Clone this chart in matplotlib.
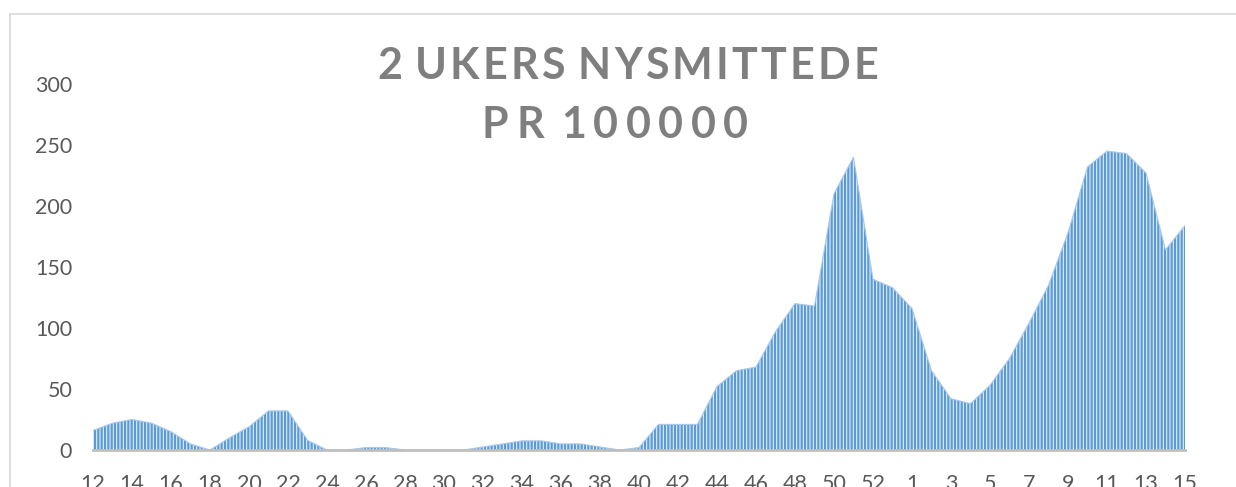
import matplotlib
matplotlib.use("Agg")
import matplotlib.pyplot as plt
from matplotlib.lines import Line2D

# ---- data ----
weeks = [12, 13, 14, 15, 16, 17, 18, 19, 20, 21, 22, 23, 24, 25, 26, 27, 28, 29, 30, 31,
         32, 33, 34, 35, 36, 37, 38, 39, 40, 41, 42, 43, 44, 45, 46, 47, 48, 49, 50, 51,
         52, 53, 1, 2, 3, 4, 5, 6, 7, 8, 9, 10, 11, 12, 13, 14, 15]
values = [16, 22, 25, 22, 15, 5, 0, 10, 19, 32, 32, 8, 0, 0, 2, 2, 0, 0, 0, 0,
          2.5, 5, 7.5, 7.5, 5, 5, 2.5, 0, 2, 21, 21, 21, 52, 65, 68, 97, 120, 118, 210, 240,
          140, 133, 116, 65, 42, 38, 53, 75, 104, 135, 178, 232, 245, 243, 227, 164, 184]
yticks = [0, 50, 100, 150, 200, 250, 300]
title_lines = ["2 UKERS NYSMITTEDE", "PR 100000"]

W, H = 1236, 487
plt.rcParams['hatch.linewidth'] = 1.6
fig = plt.figure(figsize=(W / 100, H / 100), dpi=100)
ax = fig.add_axes([93 / W, 1 - 450 / H, (1185 - 93) / W, (450 - 84) / H])

x = list(range(len(weeks)))
ax.fill_between(x, values, 0, facecolor='#e4eff9', edgecolor='#5b9bd5',
                hatch='|||||', linewidth=0, zorder=2)
ax.plot(x, values, color='#a9c9ea', lw=0.8, zorder=3)

ax.set_xlim(0, len(weeks) - 1)
ax.set_ylim(0, 300)
ax.set_xticks(x[::2])
ax.set_xticklabels([str(w) for w in weeks[::2]])
ax.set_yticks(yticks)
ax.set_yticklabels([str(v) for v in yticks])
for lab in ax.get_xticklabels() + ax.get_yticklabels():
    lab.set_fontfamily('Lato')
    lab.set_fontsize(15.5)
    lab.set_color('#595959')
ax.tick_params(axis='x', length=0, pad=17)
ax.tick_params(axis='y', length=0, pad=15)
for s in ['top', 'right', 'left']:
    ax.spines[s].set_visible(False)
ax.spines['bottom'].set_color('#bfbfbf')
ax.spines['bottom'].set_linewidth(2)
ax.spines['bottom'].set_zorder(4)
ax.set_facecolor('none')

# chart border
fig.add_artist(Line2D([10 / W, 10 / W], [0, 1 - 14 / H], transform=fig.transFigure,
                      color='#d9d9d9', lw=1.2))
fig.add_artist(Line2D([10 / W, 1], [1 - 14 / H, 1 - 14 / H], transform=fig.transFigure,
                      color='#d9d9d9', lw=1.2))

# letter-spaced title
renderer = fig.canvas.get_renderer()


def spaced(text, left, right, baseline, size):
    chars = []
    for ch in text:
        if ch == ' ':
            chars.append((ch, None, 0.0))
            continue
        t = fig.text(0, 1 - baseline / H, ch, fontsize=size, fontweight='bold',
                     family='Lato', color='#7f7f7f', ha='left', va='baseline')
        w = t.get_window_extent(renderer).width
        chars.append((ch, t, w))
    sp = size * 100 / 72 * 0.22
    nonspace = [c for c in chars if c[1] is not None]
    nspace = len(chars) - len(nonspace)
    total_w = sum(c[2] for c in nonspace)
    gap = (right - left - total_w - nspace * sp) / (len(nonspace) - 1)
    pos = left
    first = True
    for ch, t, w in chars:
        if t is None:
            pos += sp
            continue
        if not first:
            pos += gap
        t.set_x(pos / W)
        pos += w
        first = False


spaced(title_lines[0], 377, 878, 79, 31)
spaced(title_lines[1], 482, 748, 138, 31)

fig.savefig('out.png', dpi=100, facecolor='white')
